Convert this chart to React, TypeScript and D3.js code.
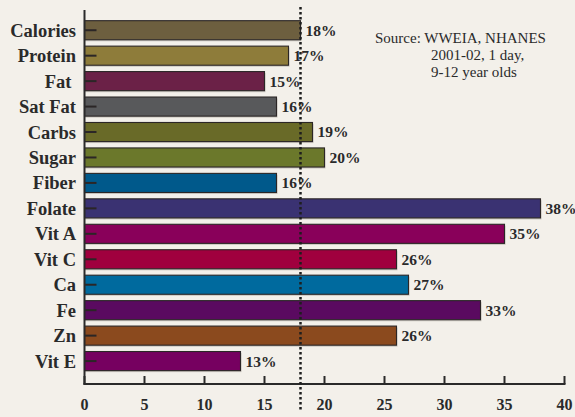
import React from "react";
import * as d3 from "d3";

// Share of daily intake by nutrient, 9-12 year olds
const categories = ["Calories", "Protein", "Fat\u00a0", "Sat Fat", "Carbs", "Sugar", "Fiber", "Folate", "Vit A", "Vit C", "Ca", "Fe", "Zn", "Vit E"];
const values = [18, 17, 15, 16, 19, 20, 16, 38, 35, 26, 27, 33, 26, 13];
const colors = ["#6d5f3f", "#8e7c3a", "#6b2147", "#58595b", "#696a28", "#6b782b", "#00598b", "#3a3272", "#89005a", "#a0003e", "#006a9e", "#5a0a60", "#8b4a1e", "#760060"];
const xTicks = [0, 5, 10, 15, 20, 25, 30, 35, 40];
const referenceValue = 18;
const sourceLines = ["Source: WWEIA, NHANES", "2001-02, 1 day,", "9-12 year olds"];

const W = 575;
const H = 417;
const FONT = "'Liberation Serif', 'DejaVu Serif', serif";
const INK = "#2a2a2a";

export default function App() {
  const x = d3.scaleLinear().domain([0, 40]).range([84.5, 564.5]);
  const y = d3
    .scaleBand<string>()
    .domain(categories)
    .range([17.5, 17.5 + 14 * 25.45])
    .paddingInner(0.25)
    .paddingOuter(0.125);
  const axisY = 384;
  const bw = y.bandwidth();

  return (
    <svg
      width={W}
      height={H}
      style={{ position: "absolute", left: 0, top: 0, background: "#f3f0ea" }}
      fontFamily={FONT}
    >
      <rect x={0} y={0} width={W} height={H} fill="#f3f0ea" />

      {/* bars */}
      {categories.map((c, i) => {
        const y0 = y(c)!;
        const x0 = x(0);
        const x1 = x(values[i]);
        return (
          <g key={c}>
            <rect x={x0} y={y0 + 1.5} width={x1 - x0 + 1} height={bw} fill="#a8a49b" opacity={0.55} />
            <rect x={x0} y={y0} width={x1 - x0} height={bw} fill={colors[i]} stroke="#2b2626" strokeWidth={1.1} />
            <line x1={x0} x2={x0 + 12} y1={y0 + bw / 2} y2={y0 + bw / 2} stroke="#2b2626" strokeWidth={2} />
            <text
              x={x1 + 5}
              y={y0 + bw / 2}
              dy="0.35em"
              fontSize={15.5}
              fontWeight="bold"
              fill={INK}
            >
              {values[i]}%
            </text>
            <text
              x={76}
              y={y0 + bw / 2}
              dy="0.35em"
              textAnchor="end"
              fontSize={18.5}
              fontWeight="bold"
              fill={INK}
              style={{ whiteSpace: "pre" }}
            >
              {c}
            </text>
          </g>
        );
      })}

      {/* axes */}
      <line x1={x(0)} x2={x(0)} y1={10} y2={axisY + 1} stroke={INK} strokeWidth={2} />
      <line x1={x(0) - 1} x2={x(40) + 1} y1={axisY} y2={axisY} stroke={INK} strokeWidth={2} />
      {xTicks.map((t) => (
        <g key={t}>
          <line x1={x(t)} x2={x(t)} y1={axisY} y2={axisY - 8} stroke={INK} strokeWidth={2} />
          <text x={x(t)} y={410} textAnchor="middle" fontSize={16} fontWeight="bold" fill={INK}>
            {t}
          </text>
        </g>
      ))}

      {/* reference line */}
      <line
        x1={x(referenceValue)}
        x2={x(referenceValue)}
        y1={7}
        y2={411}
        stroke="#1e1e1e"
        strokeWidth={2.5}
        strokeDasharray="2.5,2.5"
      />

      {/* source note */}
      <text fontSize={15} fill={INK}>
        <tspan x={375} y={42.5}>{sourceLines[0]}</tspan>
        <tspan x={431} y={59.5}>{sourceLines[1]}</tspan>
        <tspan x={431} y={76.5}>{sourceLines[2]}</tspan>
      </text>
    </svg>
  );
}
